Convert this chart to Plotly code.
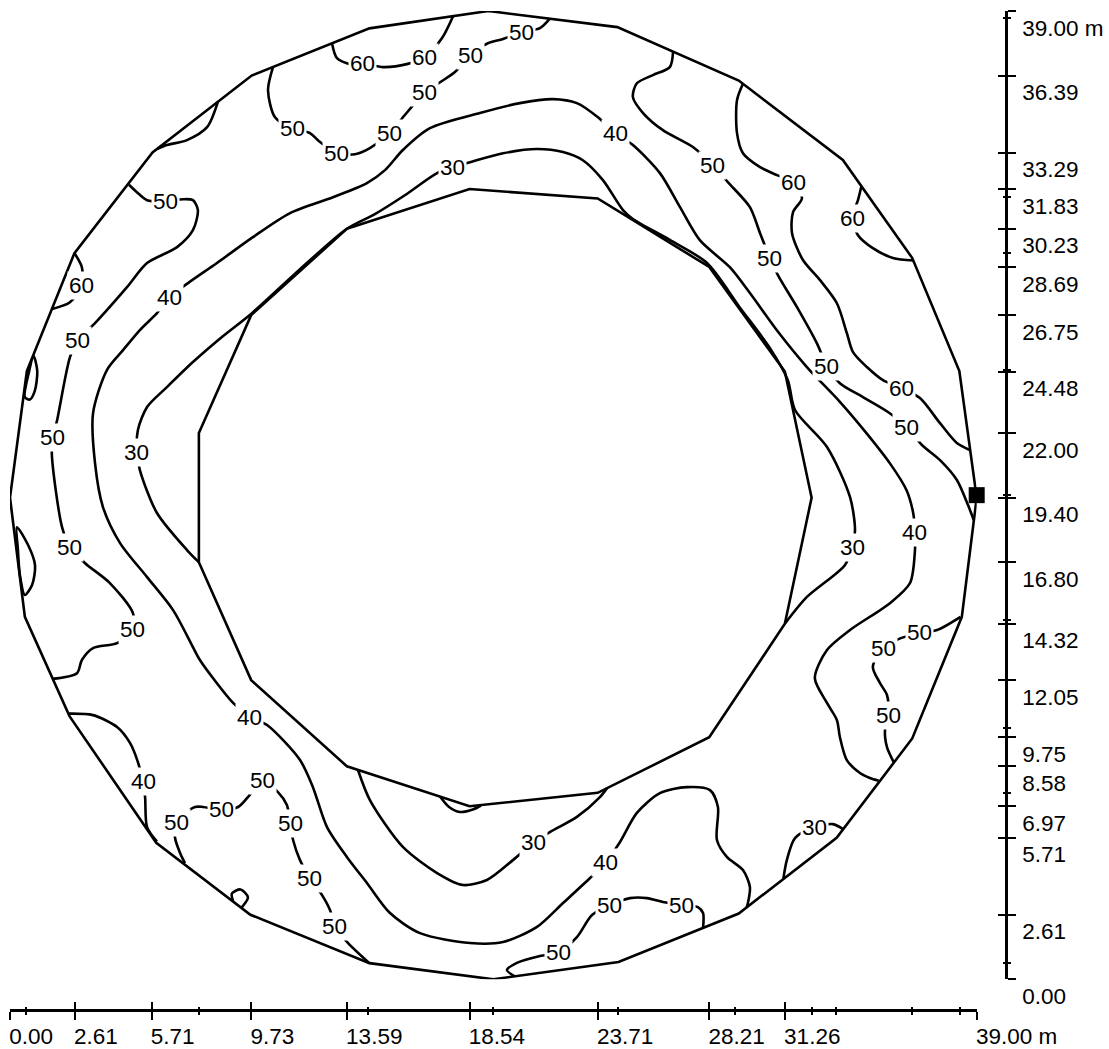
import plotly.graph_objects as go

# ---------------- axis ticks (metres) ----------------
x_tick_vals = [0.00, 2.61, 5.71, 9.73, 13.59, 18.54, 23.71, 28.21, 31.26, 39.00]
x_tick_text = ["0.00", "2.61", "5.71", "9.73", "13.59", "18.54", "23.71", "28.21", "31.26", "39.00 m"]
x_minor_vals = [0.65, 7.62, 14.46, 19.50, 24.54, 29.25, 32.34, 33.32, 36.40, 38.33]

y_tick_vals = [0.00, 2.61, 5.71, 6.97, 8.58, 9.75, 12.05, 14.32, 16.80, 19.40, 22.00,
               24.48, 26.75, 28.69, 30.23, 31.83, 33.29, 36.39, 39.00]
y_tick_text = ["0.00", "2.61", "5.71", "6.97", "8.58", "9.75", "12.05", "14.32", "16.80", "19.40",
               "22.00", "24.48", "26.75", "28.69", "30.23", "31.83", "33.29", "36.39", "39.00 m"]
y_minor_vals = [0.65, 7.51, 10.11, 14.46, 19.50, 24.54, 29.24, 31.52, 38.70]

# ---------------- boundaries (x, y in metres) ----------------
outer_boundary = [(19.3, 39.0), (24.5, 38.35), (29.4, 36.2), (33.6, 33.0), (36.4, 29.05), (38.3, 24.5),
                  (39.0, 19.4), (38.4, 14.6), (36.4, 9.7), (33.35, 5.7), (29.4, 2.65), (24.55, 0.7),
                  (19.5, 0.0), (14.5, 0.65), (9.7, 2.6), (5.9, 5.5), (2.4, 10.6), (0.6, 14.6),
                  (0.0, 19.4), (0.68, 24.5), (2.6, 29.25), (5.75, 33.3), (9.75, 36.4), (14.5, 38.3),
                  (19.3, 39.0)]
inner_boundary = [(13.59, 30.23), (18.54, 31.83), (23.71, 31.45), (28.21, 28.69), (31.26, 24.48),
                  (32.34, 19.40), (31.26, 14.32), (28.21, 9.75), (23.71, 7.51), (18.54, 6.97),
                  (13.59, 8.58), (9.73, 12.05), (7.62, 16.80), (7.62, 22.00), (9.73, 26.75),
                  (13.59, 30.23)]

# ---------------- contour lines (x, y in metres) ----------------
c60_top = [(12.99, 37.70), (13.19, 37.10), (13.72, 36.86), (14.24, 36.90), (15.05, 36.74),
           (16.01, 36.86), (16.74, 37.14), (17.43, 37.91), (17.87, 38.78)]
c50_top = [(10.61, 36.74), (10.41, 35.81), (10.69, 34.72), (11.38, 34.28), (12.10, 34.08),
           (12.51, 33.72), (13.19, 33.27), (13.92, 33.23), (14.52, 33.48), (15.33, 34.08),
           (15.93, 34.81), (16.74, 35.73), (17.35, 36.13), (17.95, 36.54), (18.56, 37.22),
           (19.28, 37.70), (19.89, 37.87), (20.65, 38.15), (21.38, 38.31), (21.78, 38.69)]
c40_main = [(35.05, 8.0), (34.69, 8.11), (34.29, 8.31), (33.76, 8.83), (33.48, 9.76), (33.36, 10.44),
            (32.96, 11.13), (32.47, 12.13), (32.96, 13.26), (33.89, 14.07), (35.50, 15.15),
            (36.31, 15.96), (36.51, 17.29), (36.51, 18.01), (36.44, 18.77), (36.17, 19.70),
            (35.50, 20.78), (34.56, 21.99), (33.48, 23.26), (32.14, 24.67), (30.93, 26.15),
            (29.85, 27.64), (29.04, 28.68), (27.83, 29.77), (27.03, 31.10), (26.22, 32.47),
            (25.13, 33.60), (24.41, 34.08), (23.72, 34.72), (22.87, 35.29), (21.90, 35.45),
            (20.57, 35.29), (18.96, 34.89), (16.94, 34.28), (15.85, 33.40), (15.13, 32.59),
            (14.40, 32.07), (13.03, 31.50), (11.30, 30.86), (9.80, 29.89), (8.35, 28.85),
            (7.18, 28.04), (6.45, 27.48), (5.93, 26.83), (5.24, 26.15), (4.56, 25.34),
            (3.91, 24.54), (3.35, 22.80), (3.43, 20.79), (3.75, 19.02), (4.44, 17.57),
            (5.53, 16.20), (6.58, 14.87), (7.38, 13.38), (7.66, 12.86), (9.00, 11.13),
            (9.68, 10.56), (10.37, 10.24), (11.70, 8.83), (12.22, 7.74), (12.79, 6.13),
            (13.59, 4.93), (14.40, 3.88), (15.33, 2.67), (16.54, 1.86), (18.56, 1.46),
            (19.89, 1.50), (21.26, 2.11), (22.31, 3.07), (23.40, 4.08), (24.04, 4.72),
            (24.61, 5.53), (25.29, 6.70), (26.22, 7.50), (27.31, 7.74), (28.24, 7.62),
            (28.56, 6.94), (28.52, 5.61), (28.92, 4.93), (29.57, 4.40), (29.85, 3.72),
            (29.77, 3.07), (29.72, 2.90)]
c30_main = [(7.62, 16.80), (7.14, 17.29), (5.93, 18.78), (5.24, 20.51), (5.12, 21.23), (5.16, 22.12),
            (5.53, 23.05), (6.33, 23.85), (7.38, 24.86), (8.55, 25.87), (9.76, 26.83), (11.70, 28.60),
            (13.59, 30.23), (14.72, 30.82), (15.93, 31.58), (17.23, 32.47), (17.87, 32.71),
            (18.56, 32.91), (19.89, 33.27), (21.26, 33.44), (22.31, 33.32), (23.11, 32.99),
            (23.92, 32.19), (24.73, 30.98), (25.13, 30.62), (26.62, 29.78), (28.12, 28.85),
            (29.45, 27.05), (30.66, 25.42), (31.38, 24.13), (31.67, 22.93), (32.96, 21.44),
            (33.89, 19.42), (34.09, 18.09), (33.97, 17.41), (33.68, 16.68), (32.15, 15.40),
            (31.26, 14.32)]
c30_bottom = [(14.04, 8.43), (14.52, 7.22), (15.85, 5.33), (17.23, 4.28), (18.27, 3.80), (19.24, 4.00),
              (20.29, 4.80), (21.10, 5.49), (21.78, 5.93), (22.87, 6.54), (23.80, 7.34), (24.08, 7.69)]
c40_left = [(2.35, 10.70), (3.35, 10.64), (4.32, 10.16), (4.84, 9.52), (5.16, 8.75), (5.37, 7.95),
            (5.45, 7.34), (5.53, 6.13), (5.93, 5.55)]
c60_left = [(2.60, 29.25), (2.90, 28.68), (2.90, 27.96), (2.42, 27.27), (1.70, 27.00)]
c50_left = [(4.80, 32.00), (5.12, 31.70), (5.53, 31.38), (6.29, 31.34), (6.98, 31.42), (7.38, 31.38),
            (7.58, 30.98), (7.38, 30.17), (6.74, 29.49), (5.53, 28.85), (4.72, 27.88), (3.43, 26.43),
            (2.74, 25.74), (2.42, 25.06), (1.90, 22.52), (1.73, 21.84), (1.69, 21.11), (2.10, 18.21),
            (2.42, 17.41), (3.03, 16.76), (4.03, 15.96), (4.96, 14.75), (4.96, 14.07), (4.32, 13.54),
            (3.35, 13.34), (2.90, 12.86), (2.70, 12.33), (1.70, 12.10)]
c50_topright = [(26.75, 37.36), (26.62, 36.74), (25.94, 36.42), (25.29, 36.09), (25.13, 35.53),
                (25.54, 34.89), (26.34, 34.20), (27.55, 33.52), (28.36, 32.79), (28.96, 32.11),
                (29.85, 31.10), (30.26, 30.05), (30.66, 29.05), (30.98, 28.36), (31.75, 27.07),
                (32.55, 25.62), (32.96, 24.70), (33.48, 24.01), (34.41, 23.45), (35.42, 22.85),
                (36.18, 22.24), (36.79, 21.52), (37.52, 20.91), (38.20, 20.11), (38.65, 19.10),
                (38.88, 18.50)]
c60_topright = [(29.57, 36.07), (29.33, 35.41), (29.33, 34.08), (29.57, 33.27), (30.26, 32.71),
                (30.94, 32.39), (31.59, 32.11), (31.95, 31.46), (31.59, 30.90), (31.55, 30.05),
                (31.99, 28.97), (32.68, 28.16), (33.36, 27.23), (33.76, 26.03), (34.01, 25.26),
                (34.57, 24.66), (35.22, 24.13), (35.98, 23.81), (36.71, 23.41), (37.52, 22.40),
                (38.20, 21.60), (38.74, 21.31)]
c60_right_small = [(34.35, 31.95), (34.21, 31.38), (33.97, 30.66), (34.21, 29.97), (34.81, 29.45),
                   (35.62, 29.05), (36.45, 28.95)]
c50_right_bottom = [(38.35, 14.60), (37.40, 14.07), (36.71, 13.95), (35.94, 13.74), (35.22, 13.34),
                    (34.81, 12.58), (35.10, 11.93), (35.38, 11.45), (35.46, 10.64), (35.30, 10.04),
                    (35.38, 9.35), (35.65, 8.75)]
c30_bottom_right = [(31.20, 4.05), (31.34, 4.80), (31.67, 5.69), (32.47, 6.13), (33.20, 6.25), (33.60, 6.05)]
c50_bottom = [(27.96, 2.07), (27.96, 2.67), (27.75, 2.91), (27.11, 2.99), (26.34, 3.11), (25.70, 3.27),
              (25.01, 3.27), (24.20, 2.99), (23.48, 2.59), (22.87, 1.70), (22.11, 1.06), (21.38, 0.94),
              (20.45, 0.66), (20.05, 0.37), (20.37, 0.12)]
c50_bottom_left = [(7.06, 4.68), (6.86, 5.09), (6.66, 5.69), (6.70, 6.33), (7.46, 6.94), (7.79, 6.94),
                   (8.55, 6.82), (9.20, 6.94), (9.60, 7.34), (10.17, 7.99), (10.81, 7.54), (11.17, 7.02),
                   (11.30, 6.29), (11.42, 5.61), (11.70, 4.80), (12.10, 4.08), (12.59, 3.39), (12.91, 2.79),
                   (13.11, 2.11), (13.64, 1.46), (14.50, 0.65)]
loop_top_left = [(8.39, 35.35), (7.95, 34.32), (7.14, 33.80), (6.33, 33.60), (5.95, 33.45)]
loop_left_1 = [(0.95, 25.10), (1.10, 24.50), (1.00, 23.70), (0.80, 23.35), (0.60, 23.45), (0.75, 24.40),
               (0.95, 25.10)]
loop_left_2 = [(0.28, 18.21), (0.73, 17.49), (1.01, 16.68), (0.89, 15.88), (0.60, 15.48), (0.40, 16.28),
               (0.32, 17.29), (0.28, 18.21)]
loop_bottom = [(17.35, 7.36), (17.70, 6.95), (18.15, 6.74), (18.70, 6.85), (19.00, 7.00)]
loop_bottom_left = [(9.00, 3.15), (8.95, 3.45), (9.30, 3.62), (9.60, 3.30), (9.35, 2.90)]

# ---------------- contour labels ----------------
label_text = ["60", "60", "50", "50", "50", "50", "50", "50", "40", "30", "50", "60", "50", "60", "50",
              "60", "40", "50", "50", "60", "50", "50", "30", "40", "30", "50", "50", "50", "50", "40",
              "50", "40", "50", "50", "50", "50", "30", "30", "40", "50", "50", "50", "50", "50"]
label_x = [14.24, 16.74, 18.56, 20.65, 16.74, 11.38, 13.19, 15.33, 24.41, 17.87, 28.36, 31.59, 6.29, 33.97,
           30.66, 2.90, 6.45, 2.74, 32.96, 35.98, 36.18, 1.73, 5.12, 36.51, 33.97, 2.42, 4.96, 36.71,
           35.22, 9.68, 35.46, 5.37, 10.17, 8.55, 6.70, 11.30, 32.47, 21.10, 24.04, 12.10, 24.20, 27.11,
           13.11, 22.11]
label_y = [36.90, 37.14, 37.22, 38.15, 35.73, 34.28, 33.27, 34.08, 34.08, 32.71, 32.79, 32.11, 31.34,
           30.66, 29.05, 27.96, 27.48, 25.74, 24.70, 23.81, 22.24, 21.84, 21.23, 18.01, 17.41, 17.41,
           14.07, 13.95, 13.34, 10.56, 10.64, 7.95, 7.99, 6.82, 6.33, 6.29, 6.13, 5.49, 4.72, 4.08,
           2.99, 2.99, 2.11, 1.06]

# marker at the right edge
marker_x = [39.0]
marker_y = [19.5]

# ---------------- figure ----------------
W, H = 1109, 1049
MR, MB = 103, 39
PW, PH = W - MR, H - MB           # plot-area size in px
x0_px, x39_px = 10.0, 976.7       # where 0 m and 39 m fall horizontally
y0_px, y39_px = 979.3, 11.0       # where 0 m and 39 m fall vertically
x_dom = [x0_px / PW, x39_px / PW]
y_dom = [(PH - y0_px) / PH, (PH - y39_px) / PH]

FONT = "Arial, Liberation Sans, sans-serif"
LW = 2.6
fig = go.Figure()

for pts in [outer_boundary, inner_boundary]:
    fig.add_trace(go.Scatter(x=[p[0] for p in pts], y=[p[1] for p in pts], mode="lines",
                             line=dict(color="black", width=LW), hoverinfo="skip", showlegend=False))

contours = [c60_top, c50_top, c40_main, c30_main, c30_bottom, c40_left, c60_left, c50_left,
            c50_topright, c60_topright, c60_right_small, c50_right_bottom, c30_bottom_right,
            c50_bottom, c50_bottom_left, loop_top_left, loop_left_1, loop_left_2, loop_bottom,
            loop_bottom_left]
for pts in contours:
    fig.add_trace(go.Scatter(x=[p[0] for p in pts], y=[p[1] for p in pts], mode="lines",
                             line=dict(color="black", width=LW, shape="spline", smoothing=0.8),
                             hoverinfo="skip", showlegend=False))

fig.add_trace(go.Scatter(x=marker_x, y=marker_y, mode="markers",
                         marker=dict(symbol="square", size=16, color="black"),
                         cliponaxis=False, hoverinfo="skip", showlegend=False))

# dummy trace for overlay axes (ticks on the other side of the axis lines)
fig.add_trace(go.Scatter(x=[None], y=[None], xaxis="x2", yaxis="y2", mode="markers",
                         hoverinfo="skip", showlegend=False))

for t, xx, yy in zip(label_text, label_x, label_y):
    fig.add_annotation(x=xx, y=yy, text=t, showarrow=False, bgcolor="white", borderpad=1,
                       font=dict(family=FONT, size=22.5, color="black"), xanchor="center", yanchor="middle")

common_x = dict(range=[0, 39], domain=x_dom, anchor="free", position=0, showgrid=False, zeroline=False,
                tickmode="array", tickvals=x_tick_vals, tickwidth=2, tickcolor="black", ticklen=8,
                fixedrange=True, automargin=False)
common_y = dict(range=[0, 39], domain=y_dom, anchor="free", position=1, side="right", showgrid=False,
                zeroline=False, tickmode="array", tickvals=y_tick_vals, tickwidth=2, tickcolor="black",
                ticklen=8, fixedrange=True, automargin=False)

fig.update_layout(
    width=W, height=H,
    margin=dict(l=0, r=MR, t=0, b=MB, pad=0),
    paper_bgcolor="white", plot_bgcolor="white",
    hovermode=False,
    xaxis=dict(**common_x, ticks="outside", ticktext=x_tick_text, showline=True, linecolor="black",
               linewidth=2.5, ticklabelposition="outside right", ticklabelstandoff=5, ticklabelshift=-3,
               tickfont=dict(family=FONT, size=22.5, color="black"),
               minor=dict(tickmode="array", tickvals=x_minor_vals, ticks="outside", ticklen=3,
                          tickwidth=2, tickcolor="black", showgrid=False)),
    yaxis=dict(**common_y, ticks="outside", ticktext=y_tick_text, showline=True, linecolor="black",
               linewidth=2.5, ticklabelposition="outside bottom", ticklabelstandoff=10,
               tickfont=dict(family=FONT, size=22.5, color="black"),
               minor=dict(tickmode="array", tickvals=y_minor_vals, ticks="outside", ticklen=3,
                          tickwidth=2, tickcolor="black", showgrid=False)),
    xaxis2=dict(**common_x, overlaying="x", ticks="inside", showticklabels=False, showline=False,
                minor=dict(tickmode="array", tickvals=x_minor_vals, ticks="inside", ticklen=3,
                           tickwidth=2, tickcolor="black", showgrid=False)),
    yaxis2=dict(**common_y, overlaying="y", ticks="inside", showticklabels=False, showline=False,
                minor=dict(tickmode="array", tickvals=y_minor_vals, ticks="inside", ticklen=3,
                           tickwidth=2, tickcolor="black", showgrid=False)),
)

fig.write_html("out.html", config={"displayModeBar": False},
               post_script="document.body.style.margin='0';document.body.style.overflow='hidden';")
